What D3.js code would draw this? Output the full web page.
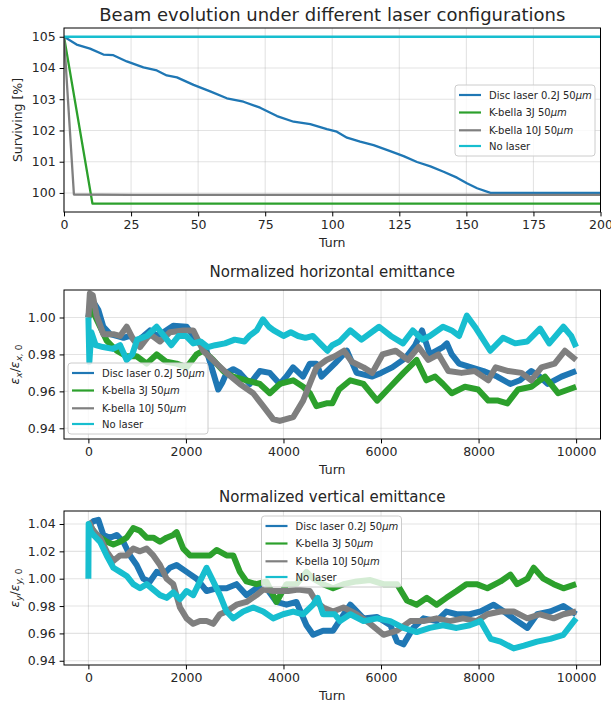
<!DOCTYPE html>
<html><head><meta charset="utf-8">
<script src="https://cdn.jsdelivr.net/npm/d3@7"></script>
<style>
body{margin:0;background:#fff;}
svg text{font-family:"DejaVu Sans",sans-serif;fill:#262626;}
</style></head>
<body><svg id="c" width="611" height="707"></svg>
<script>
// ---------- DATA ----------
const seriesNames = ["Disc laser 0.2J 50", "K-bella 3J 50", "K-bella 10J 50", "No laser"];
const seriesMicro = [true, true, true, false];
const seriesColors = ["#1f77b4", "#2ca02c", "#7f7f7f", "#17becf"];

// Top: surviving [%] vs turn
const survDisc = [[0,105],[4.7,104.75],[9.7,104.62],[14.7,104.43],[18.4,104.41],[23.4,104.21],[29.6,104.02],[34.6,103.92],[38.3,103.76],[42.1,103.7],[48.3,103.46],[54.5,103.25],[60.7,103.03],[66.9,102.92],[73.1,102.73],[79.4,102.46],[85.6,102.28],[91.8,102.2],[98,102.04],[101.7,101.96],[105.5,101.77],[110.4,101.64],[115.4,101.53],[121.6,101.34],[126.6,101.18],[131.6,100.99],[136.6,100.85],[141.5,100.68],[146.5,100.49],[150.2,100.31],[154,100.15],[159,100.0],[200,100.0]];
const survK3 = [[0,105],[10.6,99.66],[200,99.66]];
const survK10 = [[0,105],[3.7,99.95],[25,99.94],[200,99.94]];
const survNo = [[0,105],[200,105]];
const topXTicks = [0,25,50,75,100,125,150,175,200];
const topYTicks = [100,101,102,103,104,105];

// Middle: horizontal emittance
const hDisc = [[0,1.0],[40,1.008],[136,1.007],[205,1.004],[307,0.995],[444,0.991],[580,0.99],[720,0.989],[850,0.99],[990,0.987],[1130,0.99],[1263,0.993],[1400,0.99],[1540,0.992],[1740,0.9955],[2014,0.995],[2218,0.9875],[2423,0.982],[2560,0.97],[2662,0.961],[2750,0.965],[2833,0.97],[2970,0.972],[3106,0.97],[3310,0.964],[3515,0.971],[3720,0.97],[3925,0.964],[4060,0.968],[4198,0.973],[4400,0.968],[4540,0.975],[4676,0.975],[4780,0.968],[5051,0.975],[5300,0.982],[5500,0.97],[5820,0.968],[6000,0.97],[6230,0.973],[6500,0.978],[6700,0.985],[6840,0.993],[7000,0.98],[7270,0.984],[7350,0.986],[7450,0.98],[7600,0.975],[7850,0.973],[8100,0.971],[8380,0.968],[8650,0.964],[8850,0.966],[9080,0.971],[9250,0.968],[9420,0.964],[9700,0.968],[10000,0.971]];
const hK3 = [[0,1.0],[60,1.005],[240,0.995],[375,0.9875],[580,0.982],[785,0.979],[990,0.979],[1195,0.975],[1400,0.98],[1600,0.976],[1809,0.975],[2014,0.973],[2218,0.98],[2355,0.982],[2560,0.977],[2765,0.971],[2970,0.968],[3242,0.966],[3515,0.964],[3720,0.959],[3925,0.964],[4198,0.966],[4403,0.9625],[4540,0.959],[4676,0.952],[4881,0.9535],[5000,0.9535],[5140,0.961],[5370,0.966],[5640,0.964],[5920,0.955],[6190,0.9625],[6460,0.97],[6730,0.977],[6930,0.966],[7110,0.968],[7270,0.964],[7450,0.959],[7720,0.9625],[7990,0.961],[8200,0.955],[8400,0.955],[8590,0.9535],[8810,0.961],[9080,0.9625],[9360,0.968],[9630,0.959],[10000,0.9625]];
const hK10 = [[0,1.0],[30,1.013],[90,1.012],[170,1.001],[307,0.991],[512,0.991],[650,0.99],[785,0.995],[921,0.988],[1058,0.984],[1263,0.991],[1468,0.987],[1672,0.992],[1945,0.993],[2150,0.993],[2355,0.982],[2628,0.975],[2833,0.97],[3106,0.964],[3379,0.959],[3584,0.952],[3788,0.945],[3925,0.944],[4198,0.946],[4403,0.955],[4539,0.964],[4676,0.973],[4881,0.977],[5051,0.979],[5240,0.982],[5400,0.976],[5640,0.973],[5820,0.97],[6030,0.98],[6300,0.982],[6550,0.977],[6770,0.984],[6970,0.977],[7180,0.98],[7380,0.971],[7650,0.97],[7920,0.971],[8200,0.966],[8350,0.973],[8610,0.971],[8880,0.97],[9080,0.966],[9290,0.973],[9560,0.975],[9770,0.982],[10000,0.977]];
const hNo = [[0,1.0],[20,0.976],[60,0.992],[150,0.985],[300,0.984],[500,0.983],[650,0.985],[785,0.977],[900,0.98],[1000,0.988],[1200,0.99],[1400,0.995],[1550,0.99],[1700,0.985],[1850,0.99],[2000,0.99],[2150,0.986],[2300,0.987],[2450,0.984],[2600,0.985],[2800,0.986],[3000,0.988],[3200,0.987],[3300,0.99],[3450,0.993],[3580,0.999],[3700,0.995],[3800,0.993],[4000,0.99],[4150,0.992],[4300,0.99],[4450,0.989],[4600,0.99],[4750,0.986],[4900,0.982],[5000,0.985],[5150,0.987],[5370,0.993],[5600,0.988],[5960,0.995],[6200,0.99],[6450,0.986],[6650,0.993],[6850,0.988],[7000,0.99],[7270,0.995],[7450,0.993],[7600,0.99],[7760,1.001],[7950,0.994],[8240,0.982],[8500,0.989],[8750,0.986],[9000,0.987],[9260,0.994],[9450,0.986],[9740,0.995],[9900,0.99],[10000,0.984]];
const hYTicks = [0.94,0.96,0.98,1.00];

// Bottom: vertical emittance
const vDisc = [[0,1.039],[102,1.042],[205,1.043],[307,1.032],[444,1.03],[580,1.032],[716,1.027],[853,1.017],[990,1.01],[1126,1.0],[1263,0.998],[1400,1.005],[1536,1.003],[1672,1.008],[1809,1.01],[2014,1.005],[2218,1.0],[2423,0.991],[2628,0.993],[2833,0.993],[3037,0.996],[3242,0.988],[3447,0.993],[3652,0.993],[3856,0.983],[4061,0.981],[4266,0.983],[4471,0.966],[4608,0.959],[4812,0.962],[5017,0.962],[5200,0.972],[5370,0.981],[5640,0.971],[5920,0.972],[6190,0.966],[6330,0.954],[6460,0.952],[6660,0.964],[6870,0.971],[7140,0.969],[7340,0.976],[7550,0.974],[7820,0.974],[8040,0.976],[8310,0.981],[8520,0.976],[8790,0.969],[9000,0.964],[9200,0.974],[9470,0.976],[9740,0.98],[10000,0.974]];
const vK3 = [[0,1.04],[170,1.032],[375,1.027],[512,1.025],[650,1.027],[785,1.03],[920,1.037],[1058,1.035],[1195,1.03],[1331,1.03],[1468,1.027],[1604,1.03],[1740,1.032],[1809,1.034],[1945,1.022],[2082,1.017],[2287,1.017],[2492,1.017],[2628,1.021],[2833,1.017],[2970,1.017],[3106,1.005],[3242,0.998],[3447,0.996],[3652,0.998],[3856,0.983],[4061,0.996],[4266,0.996],[4471,1.005],[4608,1.0],[4812,0.996],[5017,0.993],[5230,0.996],[5500,0.998],[5780,0.999],[6050,0.996],[6330,0.996],[6530,0.984],[6730,0.981],[6940,0.986],[7140,0.981],[7340,0.986],[7550,0.991],[7750,0.996],[7960,0.996],[8180,0.993],[8450,0.998],[8650,1.003],[8790,0.996],[9000,1.0],[9130,1.008],[9330,1.0],[9540,0.996],[9740,0.993],[10000,0.996]];
const vK10 = [[0,1.042],[102,1.035],[240,1.03],[375,1.02],[512,1.013],[650,1.017],[785,1.017],[920,1.022],[1058,1.02],[1195,1.022],[1331,1.017],[1468,1.01],[1604,1.0],[1740,0.996],[1877,0.979],[2014,0.971],[2150,0.967],[2287,0.969],[2423,0.969],[2560,0.967],[2696,0.974],[2833,0.976],[3037,0.981],[3242,0.983],[3447,0.988],[3584,0.992],[3800,0.991],[4100,0.991],[4300,0.992],[4540,0.991],[4676,0.983],[4812,0.979],[5017,0.976],[5230,0.979],[5500,0.974],[5780,0.967],[6050,0.959],[6330,0.962],[6600,0.969],[6870,0.969],[7140,0.971],[7410,0.969],[7680,0.971],[7960,0.969],[8180,0.974],[8450,0.976],[8720,0.976],[9000,0.971],[9260,0.974],[9540,0.971],[9740,0.974],[10000,0.976]];
const vNo = [[0,1.0],[5,1.04],[50,1.0345],[102,1.032],[240,1.027],[375,1.017],[512,1.008],[650,1.005],[785,1.002],[920,0.996],[1058,0.993],[1195,0.996],[1331,0.992],[1468,0.988],[1604,0.986],[1740,0.99],[1877,0.985],[2014,0.991],[2150,0.988],[2287,0.998],[2423,1.008],[2560,0.998],[2696,0.988],[2833,0.976],[2970,0.971],[3174,0.976],[3379,0.979],[3584,0.976],[3788,0.971],[3993,0.974],[4198,0.976],[4403,0.974],[4608,0.981],[4700,0.986],[4812,0.974],[5051,0.974],[5160,0.969],[5370,0.974],[5640,0.969],[5920,0.971],[6190,0.969],[6460,0.964],[6730,0.961],[7000,0.964],[7270,0.966],[7550,0.964],[7820,0.966],[8040,0.969],[8250,0.956],[8450,0.954],[8720,0.949],[8930,0.951],[9200,0.954],[9470,0.956],[9740,0.959],[10000,0.971]];
const vYTicks = [0.94,0.96,0.98,1.00,1.02,1.04];
const emXTicks = [0,2000,4000,6000,8000,10000];

// ---------- DRAW ----------
const svg = d3.select("#c");
const L = 64, R = 600.5;

function panel(cfg){
  const g = svg.append("g");
  const x = d3.scaleLinear().domain(cfg.xDomain).range([L, R]);
  const y = d3.scaleLinear().domain(cfg.yDomain).range([cfg.bottom, cfg.top]);
  // grid
  g.append("g").selectAll("line.gx").data(cfg.xTicks).join("line")
    .attr("x1", d=>x(d)).attr("x2", d=>x(d)).attr("y1", cfg.top).attr("y2", cfg.bottom)
    .attr("stroke", "#b0b0b0").attr("stroke-opacity", 0.35).attr("stroke-width", 1.1);
  g.append("g").selectAll("line.gy").data(cfg.yTicks).join("line")
    .attr("y1", d=>y(d)).attr("y2", d=>y(d)).attr("x1", L).attr("x2", R)
    .attr("stroke", "#b0b0b0").attr("stroke-opacity", 0.35).attr("stroke-width", 1.1);
  // clip
  const cid = "clip" + cfg.id;
  svg.append("clipPath").attr("id", cid).append("rect")
    .attr("x", L).attr("y", cfg.top).attr("width", R-L).attr("height", cfg.bottom-cfg.top);
  const line = d3.line().x(d=>x(d[0])).y(d=>y(d[1]));
  const lg = g.append("g").attr("clip-path", `url(#${cid})`);
  cfg.series.forEach((s,i)=>{
    lg.append("path").attr("d", line(s)).attr("fill","none")
      .attr("stroke", seriesColors[i]).attr("stroke-width", cfg.lw)
      .attr("stroke-linejoin","round").attr("stroke-linecap","butt");
  });
  // axes
  const xa = d3.axisBottom(x).tickValues(cfg.xTicks).tickSize(4.4).tickPadding(4).tickFormat(d3.format("d"));
  const ya = d3.axisLeft(y).tickValues(cfg.yTicks).tickSize(4.4).tickPadding(4).tickFormat(cfg.yFmt);
  const gx = g.append("g").attr("transform", `translate(0,${cfg.bottom})`).call(xa);
  const gy = g.append("g").attr("transform", `translate(${L},0)`).call(ya);
  [gx, gy].forEach(a=>{
    a.select(".domain").remove();
    a.selectAll("line").attr("stroke","#000").attr("stroke-width",1);
    a.selectAll("text").attr("font-family","DejaVu Sans").attr("font-size","12.5px").attr("fill","#262626");
  });
  g.append("rect").attr("x", L).attr("y", cfg.top).attr("width", R-L).attr("height", cfg.bottom-cfg.top)
    .attr("fill","none").attr("stroke","#000").attr("stroke-width",1);
  // title
  g.append("text").attr("x", (L+R)/2).attr("y", cfg.titleY).attr("text-anchor","middle")
    .attr("font-size", cfg.titleSize+"px").text(cfg.title);
  g.append("text").attr("x", (L+R)/2).attr("y", cfg.bottom+35).attr("text-anchor","middle")
    .attr("font-size","12.5px").text("Turn");
  // y label
  const yl = g.append("text").attr("transform", `translate(${cfg.ylX},${(cfg.top+cfg.bottom)/2}) rotate(-90)`)
    .attr("text-anchor","middle").attr("font-size","12.5px");
  cfg.ylabel(yl);
  // legend
  const lgd = g.append("g").attr("transform", `translate(${cfg.legX},${cfg.legY})`);
  lgd.append("rect").attr("x",0).attr("y",0).attr("width",140).attr("height",71).attr("rx",3)
    .attr("fill","#fff").attr("fill-opacity",0.8).attr("stroke","#cccccc").attr("stroke-width",1);
  const rows = [10, 27.5, 45.3, 61];
  seriesNames.forEach((n,i)=>{
    lgd.append("line").attr("x1",4).attr("x2",26).attr("y1",rows[i]).attr("y2",rows[i])
      .attr("stroke", seriesColors[i]).attr("stroke-width",2.2);
    const t = lgd.append("text").attr("x",34).attr("y",rows[i]+3.6).attr("font-size","10px");
    t.append("tspan").text(n);
    if (seriesMicro[i]) t.append("tspan").attr("font-style","italic").text("μm");
  });
}

function emLabel(axis){
  return function(t){
    t.append("tspan").attr("font-style","italic").text("ε");
    t.append("tspan").attr("font-style","italic").attr("font-size","9px").attr("dy","3").text(axis);
    t.append("tspan").attr("dy","-3").text("/");
    t.append("tspan").attr("font-style","italic").text("ε");
    t.append("tspan").attr("font-style","italic").attr("font-size","9px").attr("dy","3").text(axis+", ");
    t.append("tspan").attr("font-size","9px").text("0");
  };
}

panel({id:1, top:28, bottom:212, xDomain:[0,200], yDomain:[99.39,105.28],
  xTicks:topXTicks, yTicks:topYTicks, yFmt:d3.format("d"),
  series:[survDisc, survK3, survK10, survNo], lw:2.3,
  title:"Beam evolution under different laser configurations", titleSize:18, titleY:21,
  ylX:22, ylabel:t=>t.text("Surviving [%]"), legX:455, legY:85});

panel({id:2, top:290, bottom:439, xDomain:[-500,10500], yDomain:[0.9342,1.0149],
  xTicks:emXTicks, yTicks:hYTicks, yFmt:d3.format(".2f"),
  series:[hDisc, hK3, hK10, hNo], lw:6,
  title:"Normalized horizontal emittance", titleSize:15, titleY:277,
  ylX:19, ylabel:emLabel("x"), legX:68, legY:363});

panel({id:3, top:511, bottom:665, xDomain:[-500,10500], yDomain:[0.9369,1.0495],
  xTicks:emXTicks, yTicks:vYTicks, yFmt:d3.format(".2f"),
  series:[vDisc, vK3, vK10, vNo], lw:6,
  title:"Normalized vertical emittance", titleSize:15, titleY:502,
  ylX:19, ylabel:emLabel("y"), legX:261.5, legY:516});
</script></body></html>
